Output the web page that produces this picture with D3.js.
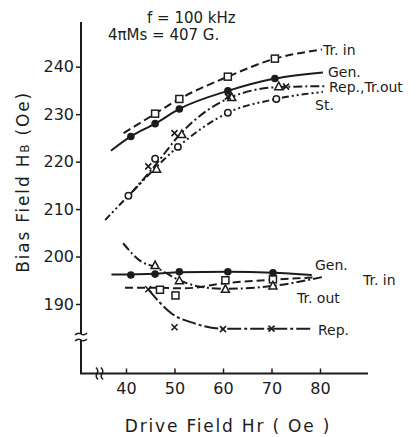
<!DOCTYPE html>
<html>
<head>
<meta charset="utf-8">
<script src="https://cdn.jsdelivr.net/npm/d3@7"></script>
<style>
  body { margin: 0; background: #fff; }
  svg { display: block; font-family: "DejaVu Sans", sans-serif; }
</style>
</head>
<body>
<svg></svg>
<script>
let xTicks = [40, 50, 60, 70, 80]
let yTicks = [190, 200, 210, 220, 230, 240]

// upper group
let upTrIn = [[46, 230.1], [51, 233.2], [61, 237.9], [70.7, 241.7]]
let upTrInCurve = [[39.5, 226], [46, 230.1], [51, 233.2], [61, 237.9], [70.7, 241.7], [80.4, 243.6]]
let upGen = [[41, 225.3], [46, 228], [51, 231.1], [61, 234.9], [70.7, 237.5]]
let upGenCurve = [[36.9, 222.3], [41, 225.3], [46, 228], [51, 231.1], [61, 234.9], [70.7, 237.5], [80.6, 238.8]]
let upTrOut = [[46.3, 218.4], [51.5, 225.7], [61.8, 233.5], [71.5, 235.8]]
let upRep = [[44.6, 219], [50, 226], [61, 233.7], [73, 235.8]]
let upRepCurve = [[41, 213.3], [46, 219.2], [51, 225.6], [61.3, 233.4], [71.5, 235.7], [81, 235.9]]
let upSt = [[40.5, 212.8], [46, 220.6], [50.7, 223.1], [61, 230.3], [71, 233.2]]
let upStCurve = [[35.7, 207.7], [40.5, 212.8], [50.7, 223.1], [61, 230.3], [71, 233.2], [80.6, 234.7]]

// lower group
let loGen = [[41, 196.1], [46, 196.3], [51, 196.8], [61, 196.8], [70.3, 196.6]]
let loGenCurve = [[37, 196.2], [46, 196.4], [51, 196.7], [61, 196.8], [70.3, 196.6], [78.3, 196.1]]
let loTrIn = [[47, 193], [50.2, 191.8], [60.5, 195], [70.3, 195.2]]
let loTrInCurve = [[39.8, 193.4], [47, 193.4], [52, 193.3], [60.5, 194.4], [70.3, 195.1], [78.5, 195.6]]
let loTrOut = [[46, 198.1], [51, 194.9], [60.5, 193.1], [70.3, 193.8]]
let loTrOutCurve = [[39.4, 202.8], [43.2, 198.9], [46, 197.8], [51, 195], [55, 193.7], [60.5, 193.2], [70.3, 193.8], [81, 195.8]]
let loRep = [[44.6, 193.1], [50, 185.1], [60, 184.7], [70, 184.8]]
let loRepCurve = [[44.6, 193.1], [49.4, 188], [54.2, 185.9], [60.1, 184.8], [70, 184.8], [78, 184.8]]

let width = 420
let height = 437
let ink = "#1c1c1c"

let svg = d3.select("svg").attr("width", width).attr("height", height)

let xScale = d3.scaleLinear().domain([40, 80]).range([126, 320])
let yScale = d3.scaleLinear().domain([190, 240]).range([304, 66.7])

let axisX = 81
let axisBottom = 373.5

// frame: y axis line with a break, x axis line with a break
svg.append("line")
   .attr("x1", axisX).attr("x2", axisX)
   .attr("y1", 22).attr("y2", 334)
   .attr("stroke", ink).attr("stroke-width", 2)
svg.append("line")
   .attr("x1", axisX).attr("x2", axisX)
   .attr("y1", 340).attr("y2", axisBottom)
   .attr("stroke", ink).attr("stroke-width", 2)
;[334, 340].forEach(yy => {
  svg.append("path")
     .attr("d", `M${axisX - 6},${yy + 1} q3,-3 6,-1 t6,-1`)
     .attr("fill", "none").attr("stroke", ink).attr("stroke-width", 1.5)
})
svg.append("line")
   .attr("x1", axisX - 1).attr("x2", 368)
   .attr("y1", axisBottom).attr("y2", axisBottom)
   .attr("stroke", ink).attr("stroke-width", 2)
;[97, 102].forEach(xx => {
  svg.append("path")
     .attr("d", `M${xx - 1},${axisBottom - 6} q3,3 1,6 t1,6`)
     .attr("fill", "none").attr("stroke", ink).attr("stroke-width", 1.5)
})

// axes
let yAxis = svg.append("g")
   .attr("transform", "translate(" + axisX + ",0)")
   .call(d3.axisLeft(yScale).tickValues(yTicks).tickSize(5).tickPadding(2))
yAxis.select(".domain").remove()
yAxis.selectAll("line").attr("stroke", ink).attr("stroke-width", 1.5)
yAxis.selectAll("text").attr("fill", ink).style("font-size", "16px")
     .style("font-family", "DejaVu Sans")

let xAxis = svg.append("g")
   .attr("transform", "translate(0," + axisBottom + ")")
   .call(d3.axisBottom(xScale).tickValues(xTicks).tickSizeInner(-5).tickSizeOuter(0).tickPadding(9))
xAxis.select(".domain").remove()
xAxis.selectAll("line").attr("stroke", ink).attr("stroke-width", 1.5)
xAxis.selectAll("text").attr("fill", ink).style("font-size", "16px")
     .style("font-family", "DejaVu Sans")

// axis titles
svg.append("text")
   .attr("x", 228).attr("y", 432)
   .attr("text-anchor", "middle")
   .style("font-size", "17px").style("letter-spacing", "1.8px")
   .attr("fill", ink)
   .text("Drive Field Hr ( Oe )")

let yTitle = svg.append("text")
   .attr("transform", "translate(29,182) rotate(-90)")
   .attr("text-anchor", "middle")
   .style("font-size", "17px").style("letter-spacing", "1.8px")
   .attr("fill", ink)
yTitle.append("tspan").text("Bias Field  H")
yTitle.append("tspan").style("font-size", "12px").text("B")
yTitle.append("tspan").text("  (Oe)")

// header
svg.append("text").attr("x", 147).attr("y", 23)
   .style("font-size", "15px").attr("fill", ink).text("f = 100 kHz")
svg.append("text").attr("x", 108).attr("y", 40)
   .style("font-size", "15px").attr("fill", ink).text("4πMs = 407 G.")

// curves
let line = d3.line()
  .x(d => xScale(d[0]))
  .y(d => yScale(d[1]))
  .curve(d3.curveMonotoneX)

let curves = [
  [upTrInCurve, "8,4"],
  [upGenCurve, null],
  [upRepCurve, "9,3,2,3"],
  [upStCurve, "7,3,2,3,2,3"],
  [loGenCurve, null],
  [loTrInCurve, "8,4"],
  [loTrOutCurve, "9,3,2,3"],
  [loRepCurve, "14,3,3,3"]
]
curves.forEach(c => {
  svg.append("path")
     .datum(c[0])
     .attr("d", line)
     .attr("fill", "none")
     .attr("stroke", ink)
     .attr("stroke-width", 2)
     .attr("stroke-dasharray", c[1])
})

// markers
let drawSquares = data => {
  svg.selectAll(null).data(data).enter().append("rect")
     .attr("x", d => xScale(d[0]) - 3.5).attr("y", d => yScale(d[1]) - 3.5)
     .attr("width", 7).attr("height", 7)
     .attr("fill", "#fff").attr("stroke", ink).attr("stroke-width", 1.5)
}
let drawDots = data => {
  svg.selectAll(null).data(data).enter().append("circle")
     .attr("cx", d => xScale(d[0])).attr("cy", d => yScale(d[1]))
     .attr("r", 3.8).attr("fill", ink)
}
let drawRings = data => {
  svg.selectAll(null).data(data).enter().append("circle")
     .attr("cx", d => xScale(d[0])).attr("cy", d => yScale(d[1]))
     .attr("r", 3.2).attr("fill", "#fff").attr("stroke", ink).attr("stroke-width", 1.5)
}
let drawTriangles = data => {
  svg.selectAll(null).data(data).enter().append("path")
     .attr("d", d => {
       let cx = xScale(d[0]), cy = yScale(d[1])
       return `M${cx},${cy - 4.5} L${cx + 4},${cy + 3} L${cx - 4},${cy + 3} Z`
     })
     .attr("fill", "#fff").attr("stroke", ink).attr("stroke-width", 1.5)
}
let drawCrosses = data => {
  svg.selectAll(null).data(data).enter().append("path")
     .attr("d", d => {
       let cx = xScale(d[0]), cy = yScale(d[1])
       return `M${cx - 3},${cy - 3} L${cx + 3},${cy + 3} M${cx + 3},${cy - 3} L${cx - 3},${cy + 3}`
     })
     .attr("fill", "none").attr("stroke", ink).attr("stroke-width", 1.6)
}

drawSquares(upTrIn)
drawDots(upGen)
drawTriangles(upTrOut)
drawCrosses(upRep)
drawRings(upSt)

drawSquares(loTrIn)
drawTriangles(loTrOut)
drawCrosses(loRep)
drawDots(loGen)

// series labels
let labels = [
  ["Tr. in", 323, 55],
  ["Gen.", 328, 77],
  ["Rep.,Tr.out", 329, 92],
  ["St.", 315, 110],
  ["Gen.", 315, 270],
  ["Tr. in", 363, 285],
  ["Tr. out", 297, 303],
  ["Rep.", 318, 335]
]
labels.forEach(l => {
  svg.append("text")
     .attr("x", l[1]).attr("y", l[2])
     .style("font-size", "14px")
     .attr("fill", ink)
     .text(l[0])
})
</script>
</body>
</html>
